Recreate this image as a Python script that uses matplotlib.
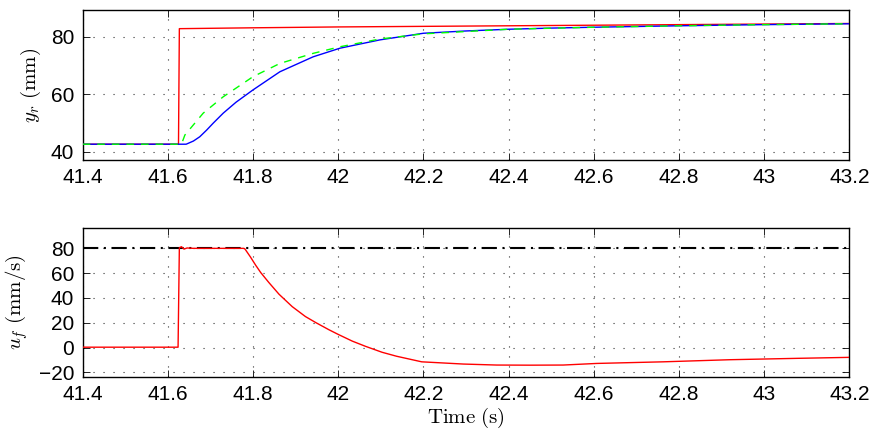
import matplotlib
matplotlib.use("Agg")
import matplotlib.pyplot as plt

# ---- data ----
t_ref = [41.4, 41.625, 41.627, 41.8, 42.0, 42.2, 42.4, 42.6, 42.8, 43.0, 43.2]
y_ref = [42.6, 42.6, 82.8, 83.1, 83.4, 83.6, 83.8, 84.0, 84.2, 84.4, 84.6]

t_meas = [41.4, 41.643, 41.66, 41.675, 41.691, 41.707, 41.730, 41.76, 41.80, 41.863,
          41.941, 42.004, 42.098, 42.2, 42.3, 42.4, 42.5, 42.6, 42.8, 43.0, 43.2]
y_meas = [42.6, 42.6, 43.7, 45.2, 47.5, 50.0, 53.4, 57.2, 61.5, 67.8,
          73.0, 76.0, 78.9, 81.2, 82.0, 82.6, 83.0, 83.3, 83.8, 84.2, 84.5]

t_model = [41.4, 41.632, 41.640, 41.683, 41.730, 41.80, 41.863, 41.941, 42.004,
           42.098, 42.2, 42.4, 42.6, 42.8, 43.0, 43.2]
y_model = [42.6, 42.6, 45.8, 53.4, 59.1, 66.1, 70.7, 74.2, 76.5,
           79.2, 81.0, 82.6, 83.3, 83.8, 84.2, 84.5]

t_u = [41.4, 41.624, 41.627, 41.632, 41.638, 41.645, 41.66, 41.778, 41.781,
       41.794, 41.806, 41.818, 41.837, 41.861, 41.892, 41.923, 41.947, 41.978,
       42.0, 42.033, 42.064, 42.103, 42.137, 42.196, 42.294, 42.372, 42.45,
       42.528, 42.607, 42.763, 42.920, 43.077, 43.2]
u_f = [0.3, 0.3, 80.5, 81.3, 79.4, 80.3, 80.0, 80.0, 79.5,
       73.0, 66.5, 60.5, 52.5, 43.0, 33.0, 25.0, 20.2, 14.4,
       10.6, 5.2, 1.0, -3.8, -7.0, -11.5, -13.3, -14.1, -14.2,
       -14.1, -12.8, -11.5, -9.8, -8.7, -7.9]

u_max = 80.0

x_ticks = [41.4, 41.6, 41.8, 42.0, 42.2, 42.4, 42.6, 42.8, 43.0, 43.2]
x_ticklabels = ["41.4", "41.6", "41.8", "42", "42.2", "42.4", "42.6", "42.8", "43", "43.2"]
y1_ticks = [40, 60, 80]
y2_ticks = [-20, 0, 20, 40, 60, 80]

# ---- style ----
plt.rcParams['font.family'] = ['Liberation Sans', 'DejaVu Sans']
plt.rcParams['mathtext.fontset'] = 'cm'
plt.rcParams['lines.scale_dashes'] = False

fig = plt.figure(figsize=(8.72, 4.32), dpi=100)
ax1 = fig.add_axes([0.0948, 0.6296, 0.8792, 0.3473])
ax2 = fig.add_axes([0.0948, 0.1280, 0.8792, 0.3442])

for ax in (ax1, ax2):
    ax.set_xlim(41.4, 43.2)
    ax.set_xticks(x_ticks)
    ax.set_xticklabels(x_ticklabels)
    ax.tick_params(direction='in', length=5, width=0.6, top=True, right=True,
                   labelsize=15, pad=6, colors='black')
    ax.grid(True, color='#333333', linestyle=(0, (0.8, 6.4)), linewidth=0.8)
    for s in ax.spines.values():
        s.set_linewidth(1.0)
        s.set_color('black')

ax1.plot(t_ref, y_ref, color='#ff0000', lw=1.0, zorder=3)
ax1.plot(t_meas, y_meas, color='#0000ff', lw=1.0, zorder=4)
ax1.plot(t_model, y_model, color='#00ff00', lw=1.0, linestyle=(0, (5.5, 5)), zorder=5)
ax1.set_ylim(37.1, 89.3)
ax1.set_yticks(y1_ticks)
ax1.set_ylabel(r'$y_r\ \mathrm{(mm)}$', fontsize=15, labelpad=6)

ax2.axhline(u_max, color='black', lw=1.5, linestyle=(0, (11, 4, 1.5, 4)), zorder=3)
ax2.plot(t_u, u_f, color='#ff0000', lw=1.0, zorder=4)
ax2.set_ylim(-23.5, 96.4)
ax2.set_yticks(y2_ticks)
ax2.set_yticklabels(['\u221220', '0', '20', '40', '60', '80'])
ax2.set_ylabel(r'$u_f\ \mathrm{(mm/s)}$', fontsize=15, labelpad=6)
ax2.set_xlabel(r'$\mathrm{Time\ (s)}$', fontsize=15, labelpad=1)

fig.savefig('out.png', dpi=100)
